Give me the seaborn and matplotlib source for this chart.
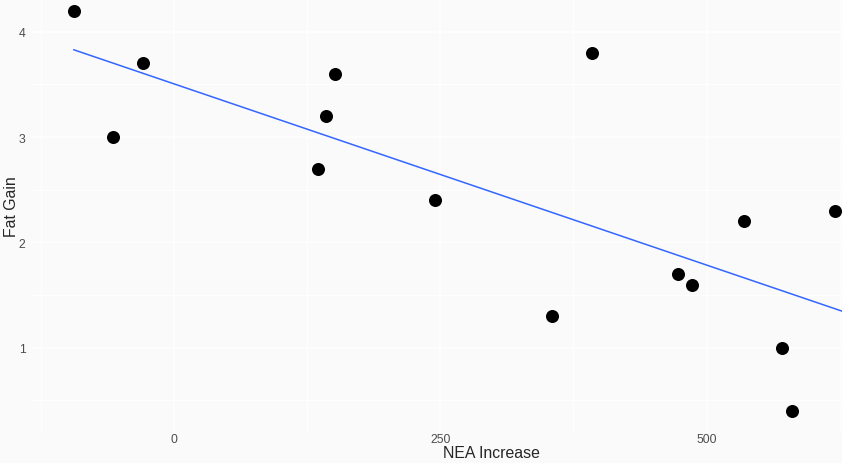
import numpy as np
import pandas as pd
import matplotlib
matplotlib.use("Agg")
import matplotlib.pyplot as plt
import seaborn as sns

# NEA increase (cal) vs fat gain (kg)
nea = [-94, -57, -29, 135, 143, 151, 245, 355, 392, 473, 486, 535, 571, 580, 620, 690]
fat = [4.2, 3.0, 3.7, 2.7, 3.2, 3.6, 2.4, 1.3, 3.8, 1.7, 1.6, 2.2, 1.0, 0.4, 2.3, 1.1]

x_ticks = [0, 250, 500]
y_ticks = [1, 2, 3, 4]

df = pd.DataFrame({"nea": nea, "fat": fat})

sns.set_style("white")
plt.rcParams['font.family'] = ['Liberation Sans', 'DejaVu Sans']

bg = "#fafafa"
fig = plt.figure(figsize=(8.42, 4.64), dpi=100, facecolor=bg)
ax = fig.add_axes([31 / 842, 31 / 464, 811 / 842, 433 / 464])
ax.set_facecolor(bg)

sns.regplot(data=df, x="nea", y="fat", ax=ax, ci=None, truncate=True,
            scatter_kws={"s": 88, "color": "black", "alpha": 1, "linewidths": 0, "zorder": 3},
            line_kws={"color": "#3366ff", "lw": 1.1, "zorder": 2})

ax.set_xlim(-134, 627)
ax.set_ylim(0.20, 4.31)

ax.set_xticks(x_ticks)
ax.set_xticks([-125, 125, 375, 625], minor=True)
ax.set_yticks(y_ticks)
ax.set_yticks([0.5, 1.5, 2.5, 3.5], minor=True)
ax.grid(which="major", color="white", lw=1.1, zorder=0)
ax.grid(which="minor", color="white", lw=0.6, zorder=0)
ax.set_axisbelow(True)
for s in ax.spines.values():
    s.set_visible(False)

ax.tick_params(which="major", length=2.5, width=0.6, color="#555555",
               labelcolor="#4d4d4d", labelsize=8.8, pad=1.5)
ax.tick_params(which="minor", length=0)
ax.tick_params(axis="x", direction="in", pad=1)

# axis titles sit where the original (wider, cropped) panel put them
ax.set_xlabel("")
ax.set_ylabel("")
fig.text(491 / 842, 1 - 454 / 464, "NEA Increase", fontsize=11.4,
         ha="center", va="center")
fig.text(12 / 842, 1 - 207 / 464, "Fat Gain", fontsize=11.4,
         rotation=90, ha="center", va="center")

fig.savefig("out.png", dpi=100, facecolor=bg)
